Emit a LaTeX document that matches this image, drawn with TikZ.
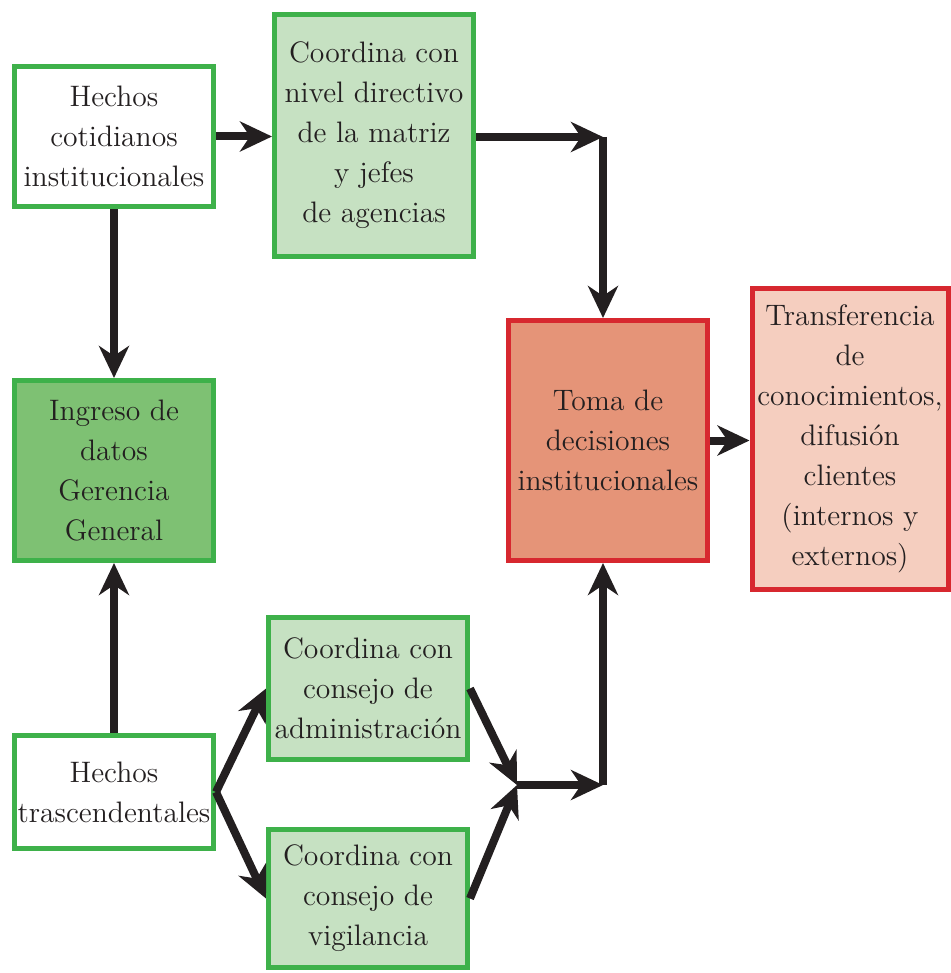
\documentclass[tikz,border=0pt]{standalone}
\usepackage{tikz}
\usetikzlibrary{arrows.meta}
\definecolor{verde}{RGB}{62,177,74}
\definecolor{verdeclaro}{RGB}{198,225,194}
\definecolor{verdemedio}{RGB}{126,193,115}
\definecolor{rojo}{RGB}{215,40,47}
\definecolor{salmon}{RGB}{229,148,120}
\definecolor{rosa}{RGB}{245,206,191}
\definecolor{negro}{RGB}{35,31,32}

\begin{document}
\begin{tikzpicture}[
x=0.5pt, y=-0.5pt,
caja/.style={
    draw=verde,
    line width=2.5pt,
    minimum width=99.5pt,
    inner sep=0pt,
    align=center,
    text=negro,
    font=\fontsize{14.8}{20}\selectfont
},
cajaroja/.style={caja, draw=rojo},
flecha/.style={
    draw=negro,
    line width=4pt,
    -{Stealth[length=16pt,width=15pt,inset=5pt]}
}
]
\useasboundingbox (0,0) rectangle (951,973);

\node[caja, fill=white, minimum height=70pt] (hechos) at (114,136.5) {Hechos\\cotidianos\\institucionales};
\node[caja, fill=verdeclaro, minimum height=121pt] (nivel) at (374,135.5) {Coordina con\\nivel directivo\\de la matriz\\y jefes\\de agencias};
\node[caja, fill=verdemedio, minimum height=90pt] (ingreso) at (114,470.5) {Ingreso de\\datos\\Gerencia\\General};
\node[caja, fill=white, minimum height=56.5pt] (trasc) at (114,792) {Hechos\\trascendentales};
\node[caja, fill=verdeclaro, minimum height=71pt] (admin) at (368,688.5) {Coordina con\\consejo de\\administración};
\node[caja, fill=verdeclaro, minimum height=69pt] (vigil) at (368,898.5) {Coordina con\\consejo de\\vigilancia};
\node[cajaroja, fill=salmon, minimum height=120pt] (toma) at (608,440.5) {Toma de\\decisiones\\institucionales};
\node[cajaroja, fill=rosa, minimum width=98pt, minimum height=150.5pt] (transf) at (850,439) {Transferencia\\de\\conocimientos,\\difusión\\clientes\\(internos y\\externos)};

\coordinate (arriba) at (603,137);
\coordinate (union) at (517,785);
\coordinate (abajo) at (603,785);

\draw[flecha] (hechos.east) -- (hechos.east -| nivel.west);
\draw[flecha] (hechos) -- (ingreso);
\draw[flecha] (trasc) -- (ingreso);
\draw[flecha] (nivel.east |- arriba) -- (arriba);
\draw[flecha] (arriba) -- (arriba |- toma.north);
\draw[flecha] (trasc.east) -- (admin.west);
\draw[flecha] (trasc.east) -- (vigil.west);
\draw[flecha] (admin.east) -- (union);
\draw[flecha] (vigil.east) -- (union);
\draw[flecha] (union) -- (abajo);
\draw[flecha] (abajo) -- (abajo |- toma.south);
\draw[flecha] (toma.east) -- (transf.west |- toma.east);
\end{tikzpicture}
\end{document}
